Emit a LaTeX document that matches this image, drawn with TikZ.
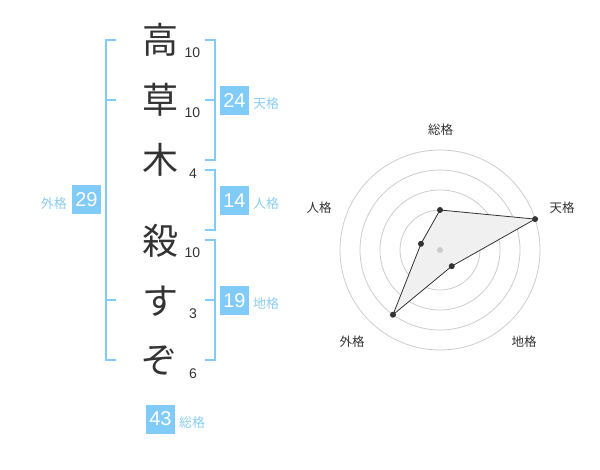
\documentclass[tikz,border=0pt]{standalone}
\usepackage{fontspec}
\setmainfont{Liberation Sans}
\newfontfamily\jpfont{Noto Sans CJK JP}
\definecolor{kakublue}{HTML}{80CBF8}
\definecolor{kakutext}{HTML}{8ACDF5}
\definecolor{inkgray}{HTML}{333333}
\definecolor{ringgray}{HTML}{CCCCCC}
\tikzset{
  moji/.style={font=\jpfont\fontsize{36}{36}\selectfont, text=inkgray, inner sep=0pt},
  kakusu/.style={font=\fontsize{14}{14}\selectfont, text=inkgray, inner sep=0pt},
  kazu/.style={fill=kakublue, text=white, minimum size=29, inner sep=0pt, font=\fontsize{20}{20}\selectfont},
  mei/.style={font=\jpfont\fontsize{13}{13}\selectfont, text=kakutext, inner sep=0pt, anchor=west},
  jiku/.style={font=\jpfont\fontsize{12.5}{12.5}\selectfont, text=inkgray, inner sep=0pt},
  bracket/.style={draw=kakublue, line width=2},
  ring/.style={draw=ringgray, line width=0.8},
  ten/.style={circle, fill=inkgray, inner sep=0pt, minimum size=6},
}
\begin{document}
\begin{tikzpicture}[x=1pt,y=-1pt]
   \useasboundingbox (0,0) rectangle (600,470);

   \node[moji] (m1) at (160,40) {高};
   \node[kakusu] (k1) at (192.5,52.5) {10};
   \node[moji] (m2) at (160,100) {草};
   \node[kakusu] (k2) at (192.5,112.5) {10};
   \node[moji] (m3) at (160,160) {木};
   \node[kakusu] (k3) at (193,173.5) {4};
   \node[moji] (m4) at (160,241) {殺};
   \node[kakusu] (k4) at (192.5,252.5) {10};
   \node[moji] (m5) at (160,301) {す};
   \node[kakusu] (k5) at (193,313.5) {3};
   \node[moji] (m6) at (159,361) {ぞ};
   \node[kakusu] (k6) at (193,373.5) {6};

   %left bracket
   \draw[bracket] (115.5,40) -- (106,40) -- (106,360) -- (115.5,360);
   \draw[bracket] (106,100) -- (115.5,100);
   \draw[bracket] (106,300) -- (115.5,300);
   \node[kazu] (gai) at (86.5,200) {29};
   \node[mei,anchor=east] (gaimei) at (67,204) {外格};

   %right brackets
   \draw[bracket] (205,40) -- (214.5,40) -- (214.5,160) -- (205,160);
   \draw[bracket] (205,100) -- (214.5,100);
   \node[kazu] (ten) at (234.5,100.5) {24};
   \node[mei] (tenmei) at (253,104) {天格};

   \draw[bracket] (205,170) -- (214.5,170) -- (214.5,230) -- (205,230);
   \node[kazu] (jin) at (234.5,200.5) {14};
   \node[mei] (jinmei) at (253,204) {人格};

   \draw[bracket] (205,240) -- (214.5,240) -- (214.5,360) -- (205,360);
   \draw[bracket] (205,300) -- (214.5,300);
   \node[kazu] (chi) at (234.5,300.5) {19};
   \node[mei] (chimei) at (253,304) {地格};

   \node[kazu] (sou) at (160.5,419) {43};
   \node[mei] (soumei) at (179,423) {総格};

   %radar chart
   \begin{scope}[shift={(440,250)},yscale=-1]
      \foreach \r in {20,40,60,80,100}
         \draw[ring] (0,0) circle[radius=\r];
      \coordinate (pSou) at (90:40);
      \coordinate (pTen) at (18:100);
      \coordinate (pChi) at (-54:20);
      \coordinate (pGai) at (-126:80);
      \coordinate (pJin) at (162:20);
      \draw[fill=black!6, draw=inkgray, line width=0.8]
         (pSou) -- (pTen) -- (pChi) -- (pGai) -- (pJin) -- cycle;
      \node[circle, fill=ringgray, inner sep=0pt, minimum size=6] (naka) at (0,0) {};
      \foreach \p in {pSou,pTen,pChi,pGai,pJin}
         \node[ten] at (\p) {};
   \end{scope}

   \node[jiku] (aSou) at (440.5,130) {総格};
   \node[jiku] (aTen) at (562,208) {天格};
   \node[jiku] (aChi) at (524,342) {地格};
   \node[jiku] (aGai) at (352,342) {外格};
   \node[jiku] (aJin) at (319,208) {人格};
\end{tikzpicture}
\end{document}
